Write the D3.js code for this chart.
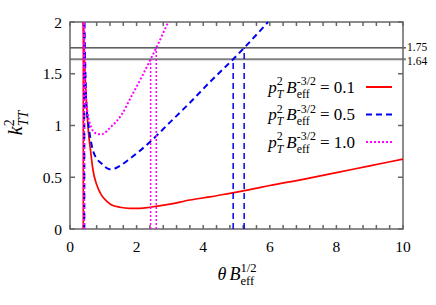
<!DOCTYPE html>
<html>
<head>
<meta charset="utf-8">
<script src="https://cdn.jsdelivr.net/npm/d3@7"></script>
<style>
  body { margin: 0; background: #fff; }
  svg text { font-family: 'Liberation Serif', 'Times New Roman', Times, serif; }
</style>
</head>
<body>
<svg id="canvas"></svg>
<script>
// values
const thetaRed = [0.40, 0.44, 0.49, 0.55, 0.62, 0.69, 0.80, 0.94, 1.10, 1.24, 1.50, 1.80, 2.10, 2.40, 3.00, 3.60, 4.20, 4.80, 5.40, 6.00, 7.00, 8.00, 9.00, 10.0]
const kRed = [2.0, 1.6, 1.24, 0.95, 0.75, 0.57, 0.43, 0.33, 0.27, 0.235, 0.21, 0.2, 0.2, 0.21, 0.24, 0.28, 0.31, 0.345, 0.38, 0.42, 0.48, 0.545, 0.61, 0.675]
const thetaBlue = [0.43, 0.46, 0.49, 0.54, 0.60, 0.69, 0.80, 0.94, 1.05, 1.19, 1.35, 1.54, 1.80, 2.40, 3.00, 3.60, 4.20, 4.90, 5.23, 5.95]
const kBlue = [2.0, 1.55, 1.2, 1.05, 0.9, 0.76, 0.68, 0.635, 0.6, 0.577, 0.585, 0.618, 0.68, 0.84, 1.03, 1.22, 1.42, 1.64, 1.75, 2.0]
const thetaMag = [0.42, 0.44, 0.49, 0.54, 0.64, 0.74, 0.94, 1.24, 1.54, 1.84, 2.14, 2.42, 2.59, 2.95]
const kMag = [2.0, 1.56, 1.23, 1.1, 0.98, 0.93, 0.915, 0.99, 1.1, 1.28, 1.46, 1.64, 1.75, 2.0]

const seriesLabels = ['0.1', '0.5', '1.0']
const thresholds = [1.75, 1.64]
// where each curve crosses the 1.64 / 1.75 lines
const crossBlue = [4.90, 5.23]
const crossMag = [2.42, 2.59]
const xTickLabels = [0, 2, 4, 6, 8, 10]
const yTickLabels = [0, 0.5, 1, 1.5, 2]

const FONT = "'Liberation Serif', 'Times New Roman', Times, serif"
const width = 436, height = 305
const margin = { left: 70, right: 33, top: 22, bottom: 76 }
const svg = d3.select('#canvas')
    .attr('width', width).attr('height', height)
    .style('font-family', FONT)

const x = d3.scaleLinear().domain([0, 10]).range([margin.left, width - margin.right])
const y = d3.scaleLinear().domain([0, 2]).range([height - margin.bottom, margin.top])

const series = [
    { theta: thetaRed, k: kRed, color: '#f00', dash: null, cross: [], w: 1.7 },
    { theta: thetaBlue, k: kBlue, color: '#0000f0', dash: '6,4', cross: crossBlue, w: 2 },
    { theta: thetaMag, k: kMag, color: '#f0f', dash: '2,2', cross: crossMag, w: 2 }
]

// horizontal reference lines
svg.append('line')
    .attr('x1', x(0)).attr('x2', x(10) + 3)
    .attr('y1', y(thresholds[1])).attr('y2', y(thresholds[1]))
    .attr('stroke', '#808080').attr('stroke-width', 2)
svg.append('line')
    .attr('x1', x(0)).attr('x2', x(10) + 3)
    .attr('y1', y(thresholds[0])).attr('y2', y(thresholds[0]))
    .attr('stroke', '#000').attr('stroke-width', 1)
svg.selectAll('.thr-label')
    .data(thresholds)
    .enter()
    .append('text')
        .style('font-family', FONT)
        .attr('x', x(10) + 4)
        .attr('y', (d, i) => y(d) + (i ? 5.5 : 3.5))
        .attr('font-size', 11.5)
        .text(d => d3.format('.2f')(d))

// frame and ticks
const frame = svg.append('g').attr('stroke', '#666').attr('stroke-width', 1.5)
frame.append('rect')
    .attr('x', x(0)).attr('y', y(2))
    .attr('width', x(10) - x(0)).attr('height', y(0) - y(2))
    .attr('fill', 'none')
const xTicks = d3.range(0, 10.001, 0.4)
frame.selectAll('.xt')
    .data(xTicks)
    .enter()
    .append('path')
        .attr('d', d => `M${x(d)},${y(0)}v-4M${x(d)},${y(2)}v4`)
const yTicks = d3.range(0, 2.001, 0.5)
frame.selectAll('.yt')
    .data(yTicks)
    .enter()
    .append('path')
        .attr('d', d => `M${x(0)},${y(d)}h5M${x(10)},${y(d)}h-5`)

svg.selectAll('.xl')
    .data(xTickLabels)
    .enter()
    .append('text')
        .style('font-family', FONT)
        .attr('x', d => x(d))
        .attr('y', y(0) + 23)
        .attr('text-anchor', 'middle')
        .attr('font-size', 15.5)
        .text(d => d)
svg.selectAll('.yl')
    .data(yTickLabels)
    .enter()
    .append('text')
        .style('font-family', FONT)
        .attr('x', x(0) - 8)
        .attr('y', d => y(d) + 5.5)
        .attr('text-anchor', 'end')
        .attr('font-size', 15.5)
        .text(d => d)

// curves
const line = d3.line().x(d => x(d[0])).y(d => y(d[1])).curve(d3.curveMonotoneX)
series.forEach(s => {
    const pts = s.theta.map((t, i) => [t, s.k[i]])
    const g = svg.append('g')
        .attr('fill', 'none')
        .attr('stroke', s.color)
        .attr('stroke-dasharray', s.dash)
    // vertical branch at the left edge
    g.append('line')
        .attr('x1', x(s.theta[0])).attr('x2', x(s.theta[0]))
        .attr('y1', y(0)).attr('y2', y(2))
        .attr('stroke-width', s.w)
    g.append('path').attr('d', line(pts)).attr('stroke-width', s.w)
    // drop lines to the 1.64 / 1.75 levels
    s.cross.forEach((c, i) => {
        g.append('line')
            .attr('x1', x(c)).attr('x2', x(c))
            .attr('y1', y(0)).attr('y2', y(thresholds[1 - i]))
            .attr('stroke-width', 1.5)
    })
})

// text with stacked super/subscripts, like gnuplot's enhanced text
const richText = (parent, parts, size) => {
    const g = parent.append('g')
    let cx = 0
    const add = (tx, ty, fs, italic, str) => g.append('text')
        .style('font-family', FONT)
        .attr('x', tx).attr('y', ty)
        .attr('font-size', fs)
        .attr('font-style', italic ? 'italic' : null)
        .text(str)
    parts.forEach(p => {
        const base = add(cx, 0, size, p.italic, p.t)
        cx += base.node().getComputedTextLength()
        let w = 0
        const small = size * 0.7
        if (p.sup) {
            const t = add(cx, -size * 0.42, small, false, p.sup)
            w = Math.max(w, t.node().getComputedTextLength())
        }
        if (p.sub) {
            const t = add(cx, size * 0.3, small, p.subItalic, p.sub)
            w = Math.max(w, t.node().getComputedTextLength())
        }
        cx += w + (p.gap || 0)
    })
    return { g, w: cx }
}

// legend
const legendRight = 355
series.forEach((s, i) => {
    const rowY = 87 + i * 27.5
    const r = richText(svg, [
        { t: 'p', italic: true, sup: '2', sub: 'T', subItalic: true, gap: 3 },
        { t: 'B', italic: true, sup: '-3/2', sub: 'eff', gap: 4 },
        { t: '=\u00a0' + seriesLabels[i] }
    ], 17)
    r.g.attr('transform', `translate(${legendRight - r.w}, ${rowY + 5.5})`)
    svg.append('line')
        .attr('x1', 366).attr('x2', 392)
        .attr('y1', rowY).attr('y2', rowY)
        .attr('stroke', s.color).attr('stroke-width', 2)
        .attr('stroke-dasharray', s.dash)
})

// axis titles
const xt = richText(svg, [
    { t: 'θ', italic: true, gap: 3 },
    { t: 'B', italic: true, sup: '1/2', sub: 'eff' }
], 18)
xt.g.attr('transform', `translate(${237 - xt.w / 2}, 280)`)

const yt = richText(svg, [
    { t: 'k', italic: true, sup: '2', sub: 'TT', subItalic: true }
], 20)
yt.g.attr('transform', `translate(22, ${123 + yt.w / 2}) rotate(-90)`)
</script>
</body>
</html>
